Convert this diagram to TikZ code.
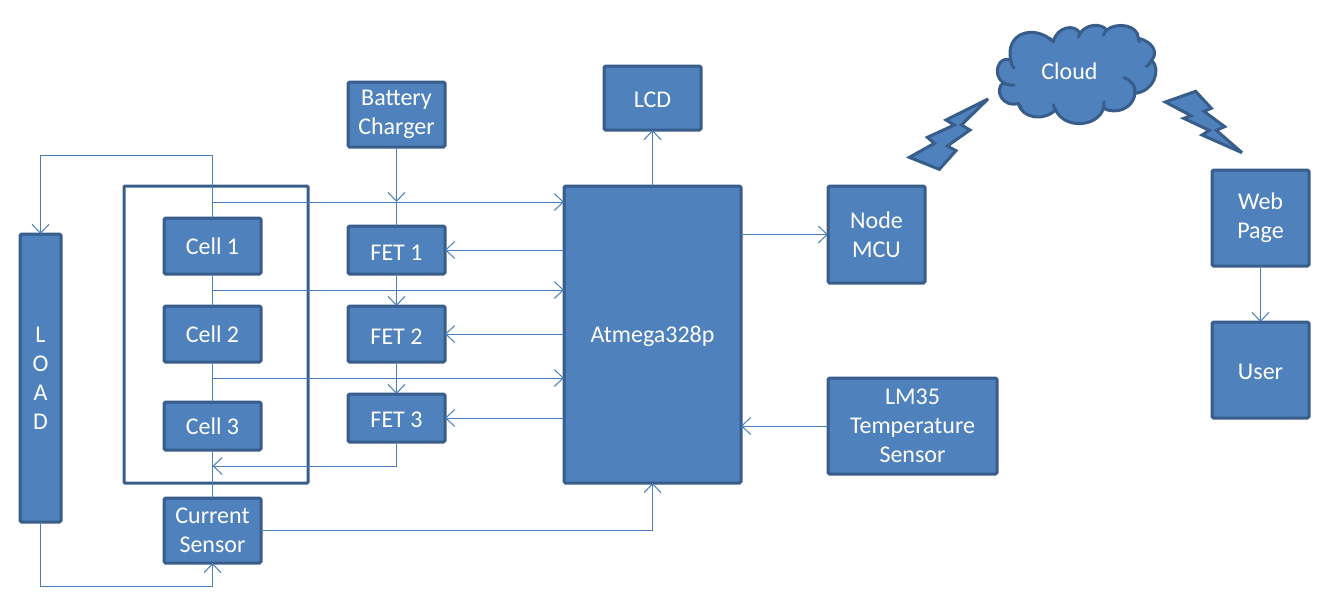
\documentclass[tikz,border=0pt]{standalone}
\usepackage{fontspec}
\setmainfont{Carlito}
\usetikzlibrary{arrows.meta}

\definecolor{boxfill}{HTML}{4F81BD}
\definecolor{boxedge}{HTML}{385D8A}
\definecolor{wirecol}{HTML}{4A7EBB}

\tikzset{
  blockbox/.style={draw=boxedge, line width=3pt, fill=boxfill, text=white,
    rounded corners=1.5pt, inner sep=0pt, outer sep=0pt, align=center,
    font=\fontsize{24}{29}\selectfont},
  lowbox/.style={blockbox, execute at begin node={\rule{0pt}{20pt}}},
  wire/.style={draw=wirecol, line width=1pt},
  arrowwire/.style={wire, -{Straight Barb[length=9pt,width=17pt,line width=1pt]}},
  shapeline/.style={draw=boxedge, line width=3pt, fill=boxfill, line join=round},
  arcline/.style={draw=boxedge, line width=3pt, line cap=round}
}

\begin{document}
\begin{tikzpicture}[x=1pt,y=-1pt]
  \useasboundingbox (0,0) rectangle (1338,613);

  % the pack around the cells
  \node[draw=boxedge, line width=3pt, rounded corners=1pt, minimum width=184, minimum height=297, inner sep=0pt, outer sep=0pt] (pack) at (216,334.5) {};

  % blocks
  \node[blockbox, minimum width=41, minimum height=288] (load) at (40.5,378) {L\\O\\A\\D};
  \node[blockbox, minimum width=97, minimum height=56] (cellone) at (212.5,246) {Cell 1};
  \node[blockbox, minimum width=97, minimum height=56] (celltwo) at (212.5,334) {Cell 2};
  \node[blockbox, minimum width=97, minimum height=48] (cellthree) at (212.5,426) {Cell 3};
  \node[blockbox, minimum width=97, minimum height=65] (current) at (212.5,530.5) {Current\\Sensor};
  \node[lowbox, minimum width=97, minimum height=65] (charger) at (396.5,114.5) {Battery\\Charger};
  \node[lowbox, minimum width=97, minimum height=48] (fetone) at (396.5,250) {FET 1};
  \node[lowbox, minimum width=97, minimum height=56] (fettwo) at (396.5,334) {FET 2};
  \node[lowbox, minimum width=97, minimum height=48] (fetthree) at (396.5,418) {FET 3};
  \node[lowbox, minimum width=177, minimum height=297] (atmega) at (652.5,334.5) {Atmega328p};
  \node[lowbox, minimum width=97, minimum height=64] (lcd) at (652.5,98) {LCD};
  \node[blockbox, minimum width=97, minimum height=97] (mcu) at (876.5,234.5) {Node\\MCU};
  \node[lowbox, minimum width=169, minimum height=96] (temp) at (912.5,426) {LM35\\Temperature\\Sensor};
  \node[lowbox, minimum width=97, minimum height=96] (web) at (1260.5,218) {Web\\Page};
  \node[lowbox, minimum width=97, minimum height=96] (user) at (1260.5,370) {User};

  % taps on the cell string
  \coordinate (tapone) at (212.5,202);
  \coordinate (taptwo) at (212.5,290);
  \coordinate (tapthree) at (212.5,378);
  \coordinate (tapfour) at (212.5,466);

  \draw[arrowwire] (cellone.north) -- ++(0,-63) -| (load.north);
  \draw[wire] (cellone.south) -- (celltwo.north);
  \draw[wire] (celltwo.south) -- (cellthree.north);
  \draw[wire] (cellthree.south) -- (current.north);
  \draw[arrowwire] (tapone) -- (atmega.west |- tapone);
  \draw[arrowwire] (taptwo) -- (atmega.west |- taptwo);
  \draw[arrowwire] (tapthree) -- (atmega.west |- tapthree);
  \draw[arrowwire] (load.south) |- ++(0,64) -| (current.south);
  \draw[arrowwire] (current.east) -| (atmega.south);

  % charge path
  \draw[arrowwire] (charger.south) -- (charger.south |- tapone);
  \draw[wire] (charger.south |- tapone) -- (fetone.north);
  \draw[arrowwire] (fetone.south) -- (fettwo.north);
  \draw[arrowwire] (fettwo.south) -- (fetthree.north);
  \draw[arrowwire] (fetthree.south) |- (tapfour);
  \draw[arrowwire] (atmega.west |- fetone) -- (fetone.east);
  \draw[arrowwire] (atmega.west |- fettwo) -- (fettwo.east);
  \draw[arrowwire] (atmega.west |- fetthree) -- (fetthree.east);

  \draw[arrowwire] (atmega.north) -- (lcd.south);
  \draw[arrowwire] (atmega.east |- mcu) -- (mcu.west);
  \draw[arrowwire] (temp.west) -- (atmega.east |- temp);
  \draw[arrowwire] (web.south) -- (user.north);

  % cloud and the two bolts, traced at three times the size
  \begin{scope}[shift={(890,10)},x=1pt/3,y=-1pt/3]
    \draw[shapeline] (362,150)
      .. controls (345,70) and (430,40) .. (490,95)
      .. controls (500,50) and (555,40) .. (570,70)
      .. controls (590,40) and (635,40) .. (650,60)
      .. controls (680,35) and (745,45) .. (745,85)
      .. controls (790,95) and (805,130) .. (785,150)
      .. controls (815,180) and (790,245) .. (735,250)
      .. controls (730,295) and (680,315) .. (640,295)
      .. controls (625,350) and (525,360) .. (497,300)
      .. controls (460,335) and (395,325) .. (385,280)
      .. controls (340,295) and (310,240) .. (340,218)
      .. controls (305,195) and (325,135) .. (362,150) -- cycle;
    \draw[arcline] (362,150) .. controls (364,160) and (366,168) .. (372,175);
    \draw[arcline] (340,218) .. controls (350,224) and (360,226) .. (372,225);
    \draw[arcline] (385,280) .. controls (386,284) and (388,288) .. (394,292);
    \draw[arcline] (497,300) .. controls (494,295) and (491,290) .. (490,284);
    \draw[arcline] (640,295) .. controls (642,288) and (642,282) .. (642,275);
    \draw[arcline] (702,203) .. controls (725,212) and (738,230) .. (735,250);
    \draw[arcline] (785,150) .. controls (781,158) and (776,165) .. (769,170);
    \draw[arcline] (745,85) .. controls (745,88) and (747,92) .. (748,96);
    \draw[arcline] (650,60) .. controls (646,65) and (642,70) .. (640,76);
    \draw[arcline] (570,70) .. controls (568,73) and (566,77) .. (565,81);
    \draw[arcline] (490,95) .. controls (487,91) and (483,88) .. (479,85);
    \draw[shapeline, miter limit=3, line join=miter] (294,267) -- (168,330) -- (193,345) -- (112,382) -- (133,400) -- (58,442)
      -- (148,478) -- (198,422) -- (172,408) -- (240,360) -- (214,345) -- cycle;
    \draw[shapeline, miter limit=3, line join=miter] (826,276) -- (917,244) -- (964,295) -- (942,304) -- (1004,350) -- (979,361)
      -- (1056,428) -- (936,375) -- (958,361) -- (881,325) -- (903,317) -- cycle;
  \end{scope}
  \node[text=white, font=\fontsize{24}{29}\selectfont] (cloud) at (1069.5,71) {Cloud};
\end{tikzpicture}
\end{document}
